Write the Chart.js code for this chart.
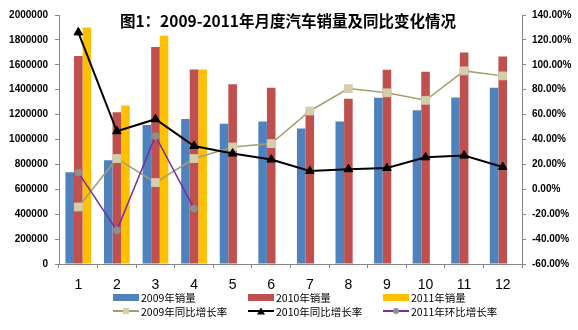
<!DOCTYPE html>
<html>
<head>
<meta charset="utf-8">
<script src="https://cdn.jsdelivr.net/npm/chart.js@4.4.1/dist/chart.umd.min.js"></script>
<style>
  html, body { margin: 0; padding: 0; background: #fff; }
  #wrap { position: relative; width: 578px; height: 330px; overflow: hidden; }
  #title {
    position: absolute; left: 0; top: 9px; width: 576px; text-align: center;
    font: bold 15.5px "Noto Sans CJK SC", sans-serif; line-height: 22px; color: #000;
  }
  .lg {
    position: absolute; display: flex; align-items: center; height: 14px;
    font: 10.5px "Noto Sans CJK SC", sans-serif; color: #000; white-space: nowrap;
  }
  .box { display: inline-block; width: 26px; height: 7px; margin-right: 2px; }
  .ln { display: inline-block; position: relative; width: 26px; height: 0; margin-right: 2px; }
  .ln b { position: absolute; left: 0; right: 0; top: -1px; height: 2px; }
  .ln i { position: absolute; left: 50%; top: 0; transform: translate(-50%, -50%); }
</style>
</head>
<body>
<div id="wrap">
  <canvas id="c" width="578" height="330"></canvas>
  <div id="title">图1：2009-2011年月度汽车销量及同比变化情况</div>

  <div class="lg" style="left:113px;top:290px"><span class="box" style="background:#4F81BD"></span>2009年销量</div>
  <div class="lg" style="left:248px;top:290px"><span class="box" style="background:#C0504D"></span>2010年销量</div>
  <div class="lg" style="left:383px;top:290px"><span class="box" style="background:#FFC000"></span>2011年销量</div>

  <div class="lg" style="left:113px;top:304px"><span class="ln"><b style="background:#A49D6E"></b><i style="width:6px;height:6px;background:#D4CDAE;"></i></span>2009年同比增长率</div>
  <div class="lg" style="left:248px;top:304px"><span class="ln"><b style="background:#000"></b><i style="width:0;height:0;border-left:4px solid transparent;border-right:4px solid transparent;border-bottom:7px solid #000;"></i></span>2010年同比增长率</div>
  <div class="lg" style="left:383px;top:304px"><span class="ln"><b style="background:#7030A0"></b><i style="width:6px;height:6px;border-radius:50%;background:#8E8E8E;"></i></span>2011年环比增长率</div>
</div>

<script>
// --- DỮ LIỆU --- //
const months = ['1', '2', '3', '4', '5', '6', '7', '8', '9', '10', '11', '12'];

const sales2009 = [736000, 834000, 1116000, 1164000, 1126000, 1144000, 1088000, 1144000, 1336000, 1234000, 1338000, 1416000];
const sales2010 = [1670000, 1218000, 1742000, 1562000, 1443000, 1416000, 1232000, 1328000, 1560000, 1544000, 1698000, 1666000];
const sales2011 = [1900000, 1274000, 1834000, 1562000, null, null, null, null, null, null, null, null];

const yoy2009 = [-14.2, 24.7, 5.4, 24.7, 34.0, 36.7, 62.9, 80.9, 77.5, 71.5, 95.1, 91.1];
const yoy2010 = [126.0, 46.6, 56.3, 34.8, 28.7, 23.9, 14.7, 16.1, 17.1, 25.7, 27.1, 17.9];
const mom2011 = [13.4, -33.0, 42.8, -15.5, null, null, null, null, null, null, null, null];

const leftTicks = { min: 0, max: 2000000, step: 200000 };
const rightTicks = { min: -60, max: 140, step: 20 };

const axisColor = '#868686';

function barSet(label, data, color) {
    return {
        type: 'bar', label, data, backgroundColor: color, yAxisID: 'y', order: 2,
        categoryPercentage: 0.667, barPercentage: 1.0
    };
}

function lineSet(label, data, color, pointStyle, radius, pointFill, width) {
    return {
        type: 'line', label, data, yAxisID: 'y1', order: 1,
        borderColor: color, borderWidth: width, tension: 0,
        pointStyle, pointRadius: radius, pointBackgroundColor: pointFill, pointBorderColor: pointFill,
        pointBorderWidth: 1, spanGaps: false
    };
}

new Chart(document.getElementById('c').getContext('2d'), {
    data: {
        labels: months,
        datasets: [
            lineSet('2010年同比增长率', yoy2010, '#000000', 'triangle', 5, '#000000', 2),
            lineSet('2011年环比增长率', mom2011, '#7030A0', 'circle', 3.5, '#8E8E8E', 1.5),
            lineSet('2009年同比增长率', yoy2009, '#A49D6E', 'rect', 5.5, '#D4CDAE', 1.5),
            barSet('2009年销量', sales2009, '#4F81BD'),
            barSet('2010年销量', sales2010, '#C0504D'),
            barSet('2011年销量', sales2011, '#FFC000')
        ]
    },
    options: {
        responsive: false,
        animation: false,
        layout: { padding: { top: 15, left: 0, right: 0, bottom: 0 } },
        plugins: { legend: { display: false }, title: { display: false }, tooltip: { enabled: false } },
        scales: {
            x: {
                offset: true,
                grid: { drawOnChartArea: false, tickLength: 4, color: axisColor, offset: true },
                border: { color: axisColor },
                ticks: { color: '#000', padding: 9, font: { family: '"Liberation Sans", sans-serif', size: 14 } },
                afterFit: s => { s.height = 66; }
            },
            y: {
                position: 'left',
                min: leftTicks.min, max: leftTicks.max,
                grid: { drawOnChartArea: false, tickLength: 4, color: axisColor },
                border: { color: axisColor },
                ticks: {
                    stepSize: leftTicks.step, padding: 7, color: '#000',
                    font: { family: '"Liberation Sans", sans-serif', size: 10, weight: 'bold' },
                    callback: v => String(v)
                },
                afterFit: s => { s.width = 59; }
            },
            y1: {
                position: 'right',
                min: rightTicks.min, max: rightTicks.max,
                grid: { drawOnChartArea: false, tickLength: 4, color: axisColor },
                border: { color: axisColor },
                ticks: {
                    stepSize: rightTicks.step, padding: 6, color: '#000',
                    font: { family: '"Liberation Sans", sans-serif', size: 10, weight: 'bold' },
                    callback: v => v.toFixed(2) + '%'
                },
                afterFit: s => { s.width = 56; }
            }
        }
    }
});
</script>
</body>
</html>
